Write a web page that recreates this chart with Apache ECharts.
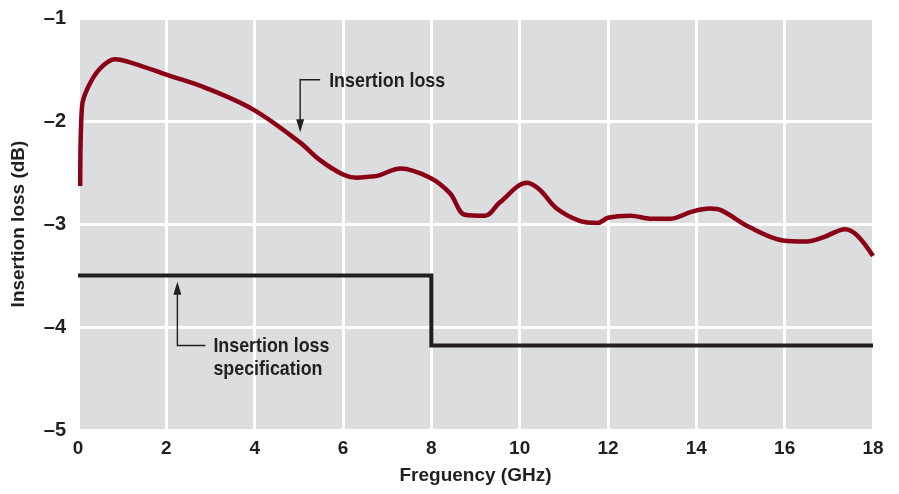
<!DOCTYPE html>
<html>
<head>
<meta charset="utf-8">
<script src="https://cdn.jsdelivr.net/npm/echarts@6/dist/echarts.min.js"></script>
<style>
  html, body { margin: 0; padding: 0; background: #fff; }
  #chart { width: 899px; height: 494px; }
</style>
</head>
<body>
<div id="chart"></div>
<script>
const freqGHz = [0.05, 0.09, 0.23, 0.5, 0.84, 1.25, 2.0, 2.9, 3.97, 5.03, 5.48, 6.0, 6.3, 6.6, 6.8, 7.3, 7.97, 8.42, 8.76, 9.21, 9.55, 10.17, 10.46, 10.84, 11.36, 11.77, 12.0, 12.5, 13.0, 13.4, 13.9, 14.3, 14.58, 15.2, 15.96, 16.5, 16.87, 17.37, 17.64, 18.0];
const lossDb = [-2.63, -1.86, -1.67, -1.49, -1.40, -1.44, -1.55, -1.68, -1.89, -2.21, -2.38, -2.52, -2.55, -2.54, -2.53, -2.46, -2.55, -2.70, -2.91, -2.92, -2.79, -2.60, -2.67, -2.85, -2.97, -2.99, -2.94, -2.92, -2.95, -2.95, -2.88, -2.85, -2.87, -3.03, -3.16, -3.17, -3.13, -3.05, -3.11, -3.31];

// specification limit (step)
const specFreq = [0, 8, 8, 18];
const specDb = [-3.5, -3.5, -4.18, -4.18];

const yTicks = ['\u20131', '\u20132', '\u20133', '\u20134', '\u20135'];

const FONT = '"Liberation Sans Narrow", "Liberation Sans", sans-serif';
const INK = '#231f20';

const myChart = echarts.init(document.getElementById('chart'));

const option = {
  backgroundColor: '#ffffff',
  animation: false,
  grid: {
    left: 78, right: 26, top: 18, bottom: 64,
    show: true,
    backgroundColor: '#dcdddf',
    borderWidth: 0
  },
  xAxis: {
    type: 'value',
    min: 0, max: 18, interval: 2,
    name: 'Freguency (GHz)',
    nameLocation: 'middle',
    nameGap: 36,
    nameTextStyle: { fontFamily: FONT, fontWeight: 'bold', fontSize: 19, color: INK },
    axisLine: { show: false },
    axisTick: { show: false },
    axisLabel: { fontFamily: FONT, fontWeight: 'bold', fontSize: 19, color: INK, margin: 9 },
    splitLine: { show: true, lineStyle: { color: '#ffffff', width: 3 } }
  },
  yAxis: {
    type: 'value',
    min: -5, max: -1, interval: 1,
    name: 'Insertion loss (dB)',
    nameLocation: 'middle',
    nameGap: 50,
    nameRotate: 90,
    nameTextStyle: { fontFamily: FONT, fontWeight: 'bold', fontSize: 19, color: INK },
    axisLine: { show: false },
    axisTick: { show: false },
    axisLabel: {
      fontFamily: FONT, fontWeight: 'bold', fontSize: 20, color: INK, margin: 12,
      formatter: function (v) { return yTicks[-1 - v]; }
    },
    splitLine: { show: true, lineStyle: { color: '#ffffff', width: 3 } }
  },
  series: [{
    name: 'Insertion loss',
    type: 'line',
    smooth: 0.35,
    symbol: 'none',
    lineStyle: { color: '#8a0016', width: 4.5 },
    data: freqGHz.map((f, i) => [f, lossDb[i]])
  }, {
    name: 'Insertion loss specification',
    type: 'line',
    symbol: 'none',
    lineStyle: { color: INK, width: 4, join: 'miter' },
    data: specFreq.map((f, i) => [f, specDb[i]])
  }]
};
myChart.setOption(option);

// callouts anchored in data coordinates
const px = (f, v) => myChart.convertToPixel({ gridIndex: 0 }, [f, v]);

function callout(corner, tip, lineEndX, textPos, text) {
  const down = tip[1] > corner[1];
  return [{
    type: 'polyline',
    shape: { points: [[lineEndX, corner[1]], corner, [tip[0], tip[1] + (down ? -9 : 9)]] },
    style: { stroke: INK, lineWidth: 1.4, fill: null }
  }, {
    type: 'polygon',
    shape: {
      points: down
        ? [[tip[0] - 4, tip[1] - 13], [tip[0] + 4, tip[1] - 13], [tip[0], tip[1]]]
        : [[tip[0] - 4, tip[1] + 13], [tip[0] + 4, tip[1] + 13], [tip[0], tip[1]]]
    },
    style: { fill: INK }
  }, {
    type: 'text',
    x: textPos[0], y: textPos[1],
    scaleX: 0.85,
    style: {
      text: text, fontFamily: FONT, fontWeight: 'bold', fontSize: 21,
      fill: INK, lineHeight: 23, verticalAlign: 'middle'
    }
  }];
}

const c1 = px(5.03, -1.6), t1 = px(5.03, -2.11);
const c2 = px(2.25, -4.18), t2 = px(2.25, -3.56);

myChart.setOption({
  graphic: [].concat(
    callout(c1, t1, c1[0] + 20, [c1[0] + 29, c1[1] + 1], 'Insertion loss'),
    callout(c2, t2, c2[0] + 28, [c2[0] + 36, c2[1] + 12], 'Insertion loss\nspecification')
  )
});
</script>
</body>
</html>
